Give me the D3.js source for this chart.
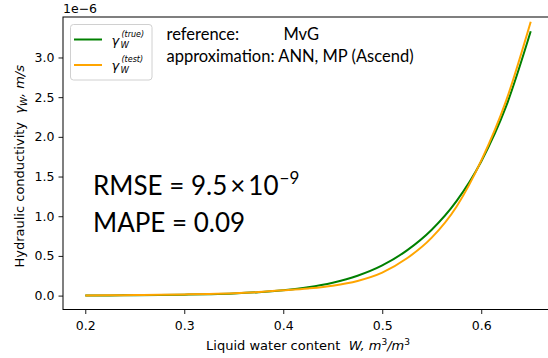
<!DOCTYPE html>
<html>
<head>
<meta charset="utf-8">
<script src="https://cdn.jsdelivr.net/npm/d3@7"></script>
<style>
  body { margin: 0; background: #fff; }
  svg { display: block; }
  text { fill: #000; }
</style>
</head>
<body>
<div id="chart"></div>
<script>
// liquid water content W (m3/m3)
const wc = [0.200, 0.225, 0.250, 0.275, 0.300, 0.325, 0.350, 0.375, 0.400, 0.425,
            0.450, 0.475, 0.500, 0.525, 0.550, 0.575, 0.600, 0.625, 0.650];
// hydraulic conductivity, units of 1e-6 m/s
const gammaTrue = [0.001, 0.002, 0.004, 0.007, 0.012, 0.018, 0.027, 0.043, 0.068, 0.105,
                   0.163, 0.250, 0.380, 0.570, 0.830, 1.190, 1.690, 2.380, 3.330];
const gammaTest = [0.002, 0.004, 0.007, 0.010, 0.015, 0.021, 0.030, 0.045, 0.066, 0.090,
                   0.125, 0.185, 0.290, 0.470, 0.730, 1.120, 1.700, 2.450, 3.450];
const xTicks = [0.2, 0.3, 0.4, 0.5, 0.6];
const yTicks = [0.0, 0.5, 1.0, 1.5, 2.0, 2.5, 3.0];

const W = 548, H = 358;
const margin = { top: 17, right: -5, bottom: 48.5, left: 63 };
const width = W - margin.left - margin.right;
const height = H - margin.top - margin.bottom;

const svg = d3.select("#chart").append("svg")
  .attr("width", W)
  .attr("height", H);

const g = svg.append("g")
  .attr("transform", `translate(${margin.left},${margin.top})`);

const x = d3.scaleLinear().domain([0.1775, 0.6725]).range([0, width]);
const y = d3.scaleLinear().domain([-0.175, 3.51]).range([height, 0]);

const tickFont = "DejaVu Sans, sans-serif";

const xAxis = d3.axisBottom(x).tickValues(xTicks).tickFormat(d3.format(".1f"))
  .tickSizeOuter(0).tickSize(4.5).tickPadding(4);
const yAxis = d3.axisLeft(y).tickValues(yTicks).tickFormat(d3.format(".1f"))
  .tickSizeOuter(0).tickSize(4.5).tickPadding(4);

const gx = g.append("g").attr("transform", `translate(0,${height})`).call(xAxis);
const gy = g.append("g").call(yAxis);
[gx, gy].forEach(a => {
  a.selectAll("text").style("font-family", tickFont).style("font-size", "12.5px").attr("fill", "#000");
  a.selectAll("line").attr("stroke", "#000").attr("stroke-width", 0.9);
  a.select(".domain").remove();
});
gx.selectAll("text").attr("dy", "0.95em");

// spines
g.append("rect")
  .attr("x", 0).attr("y", 0)
  .attr("width", width).attr("height", height)
  .attr("fill", "none").attr("stroke", "#000").attr("stroke-width", 1);

// offset text
svg.append("text")
  .attr("x", margin.left).attr("y", 13)
  .style("font-family", tickFont).style("font-size", "12.5px")
  .text("1e\u22126");

const line = d3.line()
  .x((d, i) => x(wc[i]))
  .y(d => y(d))
  .curve(d3.curveMonotoneX);

g.append("path").datum(gammaTrue)
  .attr("d", line).attr("fill", "none")
  .attr("stroke", "green").attr("stroke-width", 2);
g.append("path").datum(gammaTest)
  .attr("d", line).attr("fill", "none")
  .attr("stroke", "orange").attr("stroke-width", 2);

// legend
const leg = svg.append("g");
leg.append("rect")
  .attr("x", 70.5).attr("y", 24.5).attr("width", 81.5).attr("height", 55.5)
  .attr("rx", 3).attr("fill", "#fff").attr("fill-opacity", 0.8)
  .attr("stroke", "#d0d0d0").attr("stroke-width", 1);
const legItems = [
  { color: "green", sup: "(true)", cy: 39.5 },
  { color: "orange", sup: "(test)", cy: 65 }
];
legItems.forEach(it => {
  leg.append("line")
    .attr("x1", 74).attr("x2", 102).attr("y1", it.cy).attr("y2", it.cy)
    .attr("stroke", it.color).attr("stroke-width", 2);
  leg.append("text")
    .attr("x", 111.5).attr("y", it.cy + 5)
    .style("font-family", tickFont).style("font-style", "italic").style("font-size", "13px")
    .text("\u03b3");
  leg.append("text")
    .attr("x", 120.5).attr("y", it.cy + 8)
    .style("font-family", tickFont).style("font-style", "italic").style("font-size", "8.5px")
    .text("W");
  leg.append("text")
    .attr("x", 121.5).attr("y", it.cy - 3)
    .style("font-family", tickFont).style("font-style", "italic").style("font-size", "8px")
    .text(it.sup);
});

// annotation text
const annFont = "Lato, 'Open Sans', sans-serif";
svg.append("text").attr("x", 166.5).attr("y", 39.5)
  .style("font-family", annFont).style("font-size", "16.5px").text("reference:");
svg.append("text").attr("x", 283.5).attr("y", 39.5)
  .style("font-family", annFont).style("font-size", "16.5px").text("MvG");
svg.append("text").attr("x", 166.5).attr("y", 61.5)
  .style("font-family", annFont).style("font-size", "16.5px").text("approximation: ANN, MP (Ascend)");

const rmse = svg.append("text").attr("x", 93).attr("y", 195)
  .style("font-family", annFont).style("font-size", "26px");
rmse.append("tspan").text("RMSE = 9.5");
rmse.append("tspan").attr("dx", 3).text("\u00d7");
rmse.append("tspan").attr("dx", 3).text("10");
rmse.append("tspan").attr("dy", -11).attr("dx", 1).style("font-size", "17px").text("\u22129");
svg.append("text").attr("x", 93).attr("y", 231.5)
  .style("font-family", annFont).style("font-size", "26px").text("MAPE = 0.09");

// axis labels
const xl = svg.append("text")
  .attr("x", margin.left + width / 2).attr("y", 350)
  .attr("text-anchor", "middle")
  .style("font-family", tickFont).style("font-size", "13px");
xl.append("tspan").text("Liquid water content\u00a0\u00a0");
xl.append("tspan").style("font-style", "italic").text("W, m");
xl.append("tspan").style("font-size", "9px").attr("dy", -5).text("3");
xl.append("tspan").style("font-style", "italic").attr("dy", 5).text("/m");
xl.append("tspan").style("font-size", "9px").attr("dy", -5).text("3");

const yl = svg.append("text")
  .attr("transform", `translate(24,${margin.top + height / 2 + 3}) rotate(-90)`)
  .attr("text-anchor", "middle")
  .style("font-family", tickFont).style("font-size", "13px");
yl.append("tspan").text("Hydraulic conductivity\u00a0\u00a0");
yl.append("tspan").style("font-style", "italic").text("\u03b3");
yl.append("tspan").style("font-style", "italic").style("font-size", "9px").attr("dy", 3).text("W");
yl.append("tspan").style("font-style", "italic").attr("dy", -3).text(", m/s");
</script>
</body>
</html>
